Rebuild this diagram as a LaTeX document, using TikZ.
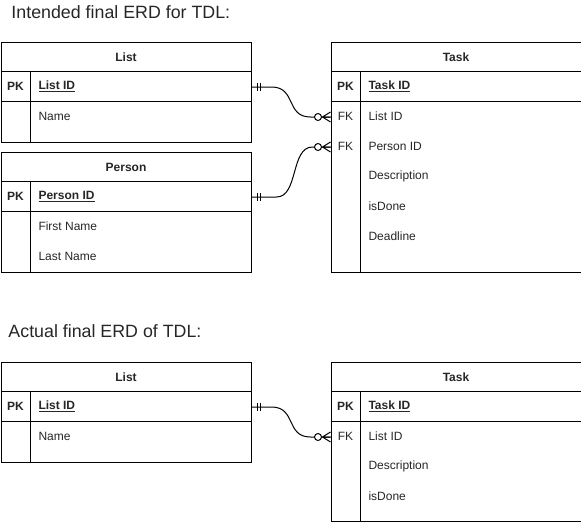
\documentclass[tikz,border=0pt]{standalone}
\usepackage{fontspec}
\setmainfont{Liberation Sans}
\begin{document}
\begin{tikzpicture}[x=1pt,y=-1pt,line width=1pt,
  ent/.style={draw, minimum width=250pt, inner sep=0pt, anchor=north west},
  row/.style={minimum width=250pt, minimum height=30pt, inner sep=0pt, anchor=north west},
  hdr/.style={font=\fontsize{12}{14}\selectfont\bfseries, text=black!85, inner sep=0pt},
  keyt/.style={font=\fontsize{12}{14}\selectfont, text=black!85, inner sep=0pt},
  fld/.style={font=\fontsize{12}{14}\selectfont, text=black!85, anchor=west, inner sep=0pt},
  ttl/.style={font=\fontsize{17.8}{21}\selectfont, text=black!85, anchor=base west, inner sep=0pt},
  zmany/.pic={\draw (-8,0) -- (0,-5) (-8,0) -- (0,0) (-8,0) -- (0,5);
              \draw[fill=white] (-12.5,0) circle (3.5pt);},
  mone/.pic={\draw (6,-4) -- (6,4) (9,-4) -- (9,4);}
]
\useasboundingbox (0,0) rectangle (581,522);

% ---------- titles ----------
\node[ttl] (t1) at (11,19) {Intended final ERD for TDL:};
\node[ttl] (t2) at (8,337) {Actual final ERD of TDL:};

% ---------- List (intended) ----------
\node[ent, minimum height=100pt] (L1) at (0.5,41.5) {};
\node[row] (L1h) at (0.5,41.5) {};
\node[row] (L1pk) at (0.5,71.5) {};
\node[row] (L1r1) at (0.5,101.5) {};
\draw (0.5,71.5) -- (250.5,71.5) (0.5,101.5) -- (250.5,101.5) (30.5,71.5) -- (30.5,141.5);
\node[hdr] (L1ht) at (L1h.center) {List};
\node[hdr] (L1pkk) at (15.5,86.5) {PK};
\node[fld, font=\fontsize{12}{14}\selectfont\bfseries] (L1pkt) at (38,86.5) {\underline{List ID}};
\node[fld] (L1r1t) at (38,116.5) {Name};

% ---------- Person ----------
\node[ent, minimum height=120pt] (P1) at (0.5,151.5) {};
\node[row] (P1h) at (0.5,151.5) {};
\node[row] (P1pk) at (0.5,181.5) {};
\draw (0.5,181.5) -- (250.5,181.5) (0.5,211.5) -- (250.5,211.5) (30.5,181.5) -- (30.5,271.5);
\node[hdr] (P1ht) at (P1h.center) {Person};
\node[hdr] (P1pkk) at (15.5,196.5) {PK};
\node[fld, font=\fontsize{12}{14}\selectfont\bfseries] (P1pkt) at (38,196.5) {\underline{Person ID}};
\node[fld] (P1r1t) at (38,226.5) {First Name};
\node[fld] (P1r2t) at (38,256.5) {Last Name};

% ---------- Task (intended) ----------
\node[ent, minimum height=230pt] (T1) at (330.5,41.5) {};
\node[row] (T1h) at (330.5,41.5) {};
\node[row] (T1pk) at (330.5,71.5) {};
\node[row] (T1fk1) at (330.5,101.5) {};
\node[row] (T1fk2) at (330.5,131.5) {};
\draw (330.5,71.5) -- (580.5,71.5) (330.5,101.5) -- (580.5,101.5) (360.5,71.5) -- (360.5,271.5);
\node[hdr] (T1ht) at (T1h.center) {Task};
\node[hdr] (T1pkk) at (345.5,86.5) {PK};
\node[fld, font=\fontsize{12}{14}\selectfont\bfseries] (T1pkt) at (368,86.5) {\underline{Task ID}};
\node[keyt] (T1fk1k) at (345.5,116.5) {FK};
\node[fld] (T1fk1t) at (368,116.5) {List ID};
\node[keyt] (T1fk2k) at (345.5,146.5) {FK};
\node[fld] (T1fk2t) at (368,146.5) {Person ID};
\node[fld] (T1r3t) at (368,176.5) {Description};
\node[fld] (T1r4t) at (368,206.5) {isDone};
\node[fld] (T1r5t) at (368,236.5) {Deadline};

% ---------- connectors (intended) ----------
\draw (L1pk.east) -- ++(20,0) .. controls +(25,0) and +(-25,0) .. ([xshift=-20pt]T1fk1.west) -- (T1fk1.west);
\draw (P1pk.east) -- ++(25,0) .. controls +(22,0) and +(-22,0) .. ([xshift=-18pt]T1fk2.west) -- (T1fk2.west);
\pic at (L1pk.east) {mone};
\pic at (P1pk.east) {mone};
\pic at (T1fk1.west) {zmany};
\pic at (T1fk2.west) {zmany};

% ---------- List (actual) ----------
\node[ent, minimum height=100pt] (L2) at (0.5,361.5) {};
\node[row] (L2h) at (0.5,361.5) {};
\node[row] (L2pk) at (0.5,391.5) {};
\draw (0.5,391.5) -- (250.5,391.5) (0.5,421.5) -- (250.5,421.5) (30.5,391.5) -- (30.5,461.5);
\node[hdr] (L2ht) at (L2h.center) {List};
\node[hdr] (L2pkk) at (15.5,406.5) {PK};
\node[fld, font=\fontsize{12}{14}\selectfont\bfseries] (L2pkt) at (38,406.5) {\underline{List ID}};
\node[fld] (L2r1t) at (38,436.5) {Name};

% ---------- Task (actual) ----------
\node[ent, minimum height=159pt] (T2) at (330.5,361.5) {};
\node[row] (T2h) at (330.5,361.5) {};
\node[row] (T2pk) at (330.5,391.5) {};
\node[row] (T2fk1) at (330.5,421.5) {};
\draw (330.5,391.5) -- (580.5,391.5) (330.5,421.5) -- (580.5,421.5) (360.5,391.5) -- (360.5,520.5);
\node[hdr] (T2ht) at (T2h.center) {Task};
\node[hdr] (T2pkk) at (345.5,406.5) {PK};
\node[fld, font=\fontsize{12}{14}\selectfont\bfseries] (T2pkt) at (368,406.5) {\underline{Task ID}};
\node[keyt] (T2fk1k) at (345.5,436.5) {FK};
\node[fld] (T2fk1t) at (368,436.5) {List ID};
\node[fld] (T2r2t) at (368,466.5) {Description};
\node[fld] (T2r3t) at (368,496.5) {isDone};

% ---------- connector (actual) ----------
\draw (L2pk.east) -- ++(20,0) .. controls +(25,0) and +(-25,0) .. ([xshift=-20pt]T2fk1.west) -- (T2fk1.west);
\pic at (L2pk.east) {mone};
\pic at (T2fk1.west) {zmany};
\end{tikzpicture}
\end{document}
